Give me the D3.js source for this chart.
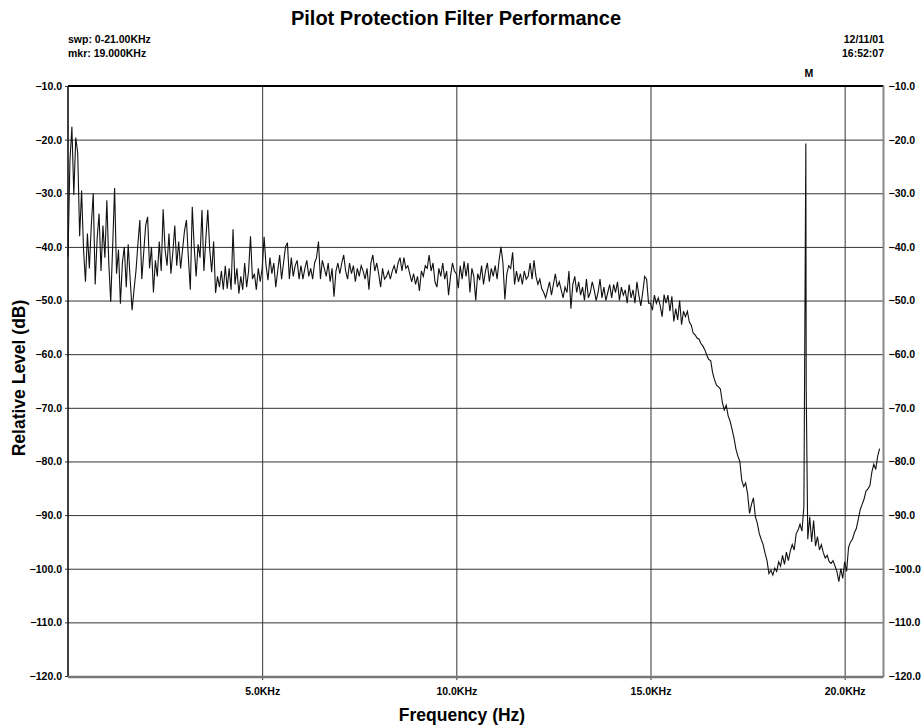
<!DOCTYPE html>
<html>
<head>
<meta charset="utf-8">
<script src="https://cdn.jsdelivr.net/npm/d3@7"></script>
<style>
body { margin: 0; background: #fff; }
</style>
</head>
<body>
<script>
// sweep definition: one level reading every 0.05 kHz from 0 kHz
var sweepStartKHz = 0;
var sweepStepKHz = 0.05;

var levelDb = [
  // 0 - 1 kHz
  -41.8, -24.0, -17.6, -30.3, -19.6, -22.5, -38.0, -29.5, -40.5, -46.5,
  -37.5, -44.0, -36.0, -30.0, -47.0, -38.5, -33.8, -44.5, -36.0, -42.0,
  // 1 - 2 kHz
  -31.3, -43.0, -50.2, -40.0, -29.0, -45.0, -40.5, -50.6, -43.0, -40.0,
  -47.5, -39.5, -46.0, -51.8, -48.0, -44.5, -39.5, -35.0, -46.0, -41.0,
  // 2 - 3 kHz
  -36.0, -34.4, -44.0, -40.0, -48.5, -42.5, -45.5, -39.0, -44.5, -33.0,
  -40.5, -43.5, -37.5, -45.0, -41.0, -36.0, -43.5, -39.0, -44.0, -40.5,
  // 3 - 4 kHz
  -37.0, -35.0, -42.0, -48.0, -32.5, -40.0, -45.5, -39.5, -42.0, -33.1,
  -44.5, -38.5, -33.1, -40.5, -44.7, -39.0, -48.6, -45.5, -47.5, -44.5,
  // 4 - 5 kHz
  -48.0, -43.5, -47.8, -44.0, -48.0, -36.7, -47.0, -44.0, -48.7, -45.5,
  -48.0, -43.0, -47.5, -44.5, -38.0, -46.0, -45.0, -48.0, -44.0, -46.5,
  // 5 - 6 kHz
  -44.0, -38.1, -43.5, -46.2, -42.0, -45.0, -43.0, -47.5, -44.5, -41.5,
  -46.0, -43.0, -40.0, -39.2, -46.0, -42.0, -45.5, -43.5, -42.5, -46.0,
  // 6 - 7 kHz
  -43.5, -46.0, -44.0, -42.5, -45.5, -44.0, -46.0, -43.0, -42.0, -39.0,
  -46.0, -42.5, -44.0, -45.5, -43.0, -46.5, -44.0, -49.3, -44.5, -43.0,
  // 7 - 8 kHz
  -45.0, -43.0, -41.5, -44.5, -46.0, -43.0, -45.0, -43.5, -46.5, -44.0,
  -45.5, -43.5, -44.5, -46.0, -44.0, -48.0, -43.0, -41.5, -44.5, -43.0,
  // 8 - 9 kHz
  -45.0, -47.5, -44.0, -46.0, -45.5, -44.5, -46.0, -44.5, -43.5, -45.0,
  -43.0, -42.0, -44.5, -42.0, -44.0, -43.5, -45.0, -46.5, -45.0, -47.0,
  // 9 - 10 kHz
  -45.5, -48.2, -44.5, -45.5, -43.5, -44.0, -41.5, -44.5, -43.0, -46.5,
  -47.5, -44.0, -45.5, -43.0, -46.0, -44.5, -49.0, -45.5, -43.0, -44.5,
  // 10 - 11 kHz
  -45.0, -47.7, -43.5, -46.0, -42.7, -45.5, -43.0, -48.5, -44.0, -45.5,
  -50.0, -45.0, -46.2, -43.5, -47.0, -44.5, -43.0, -46.5, -44.0, -45.5,
  // 11 - 12 kHz
  -43.5, -46.0, -42.5, -40.0, -43.0, -49.8, -45.0, -43.5, -44.0, -41.0,
  -47.0, -44.5, -46.5, -45.0, -47.0, -44.5, -46.0, -45.5, -43.0, -46.0,
  // 12 - 13 kHz
  -42.5, -45.5, -47.0, -46.0, -47.8, -48.5, -49.5, -48.0, -46.5, -49.0,
  -47.0, -45.0, -47.5, -46.5, -48.0, -49.5, -47.5, -48.5, -44.5, -51.5,
  // 13 - 14 kHz
  -47.0, -45.5, -48.5, -46.5, -49.0, -47.5, -50.0, -46.0, -49.5, -48.5,
  -46.5, -48.0, -50.0, -48.5, -46.0, -49.5, -47.5, -50.0, -48.5, -47.0,
  // 14 - 15 kHz
  -49.5, -47.0, -48.5, -46.5, -50.0, -47.5, -49.0, -48.0, -50.5, -47.0,
  -49.5, -48.0, -50.5, -46.5, -49.0, -51.0, -48.5, -45.5, -46.0, -50.5,
  // 15 - 16 kHz
  -50.5, -51.8, -49.0, -50.5, -49.5, -51.0, -53.0, -48.9, -50.5, -49.0,
  -52.0, -49.2, -53.9, -51.5, -53.6, -50.0, -54.5, -52.0, -53.0, -52.0,
  // 16 - 17 kHz
  -54.0, -54.6, -56.1, -56.4, -57.0, -57.2, -58.0, -58.5, -59.2, -60.2,
  -61.0, -61.2, -63.5, -64.8, -65.8, -66.1, -66.5, -69.0, -70.4, -69.5,
  // 17 - 18 kHz
  -71.5, -72.5, -74.0, -75.6, -77.7, -79.0, -80.0, -83.5, -84.7, -84.0,
  -86.0, -89.7, -88.0, -86.8, -90.3, -91.5, -93.4, -94.5, -95.5, -97.1,
  // 18 - 19 kHz
  -98.5, -100.9, -100.3, -101.2, -99.9, -100.5, -98.7, -99.5, -97.5, -99.2,
  -96.9, -98.5, -96.7, -95.5, -96.5, -93.5, -92.8, -91.7, -93.0, -88.4,
  // 19 - 20 kHz (19.00 = pilot tone)
  -20.7, -94.5, -90.3, -95.0, -91.0, -95.8, -94.0, -96.5, -95.5, -97.0,
  -98.0, -97.5, -98.7, -99.0, -98.5, -99.5, -100.5, -102.4, -100.0, -101.8,
  // 20 - 20.9 kHz
  -98.7, -100.5, -96.0, -95.0, -94.5, -93.3, -92.5, -90.8, -89.0, -88.0,
  -87.0, -85.5, -85.1, -84.5, -82.0, -80.5, -81.5, -79.0, -77.6
];

// extra readings on the flanks of the 19 kHz pilot spike
var spikeKHz = [18.99, 19.01];
var spikeDb = [-34.4, -66.7];

var yTicks = [-10, -20, -30, -40, -50, -60, -70, -80, -90, -100, -110, -120];
var xTicks = [5, 10, 15, 20];
var infoLeft = ["swp: 0-21.00KHz", "mkr: 19.000KHz"];
var infoRight = ["12/11/01", "16:52:07"];
var markerKHz = 19.0;

function init() {
  var W = 921, H = 725;
  var left = 68, top = 86, right = 883.5, bottom = 676;
  var small = '"Liberation Sans", Arial, sans-serif';
  var big = '"Liberation Sans", Arial, sans-serif';

  var svg = d3.select("body").append("svg")
    .attr("width", W)
    .attr("height", H);

  var x = d3.scaleLinear().domain([0, 21]).range([left, right]);
  var y = d3.scaleLinear().domain([-120, -10]).range([bottom, top]);

  // grid
  var gy = svg.append("g")
    .attr("transform", "translate(" + left + ",0)")
    .call(d3.axisLeft(y).tickValues(yTicks).tickSize(-(right - left)).tickFormat(""));
  gy.select(".domain").remove();
  gy.selectAll("line").attr("stroke", "#333");

  var gx = svg.append("g")
    .attr("transform", "translate(0," + (bottom + 4) + ")")
    .call(d3.axisBottom(x).tickValues(xTicks).tickSize(-(bottom - top + 4)).tickFormat(""));
  gx.select(".domain").remove();
  gx.selectAll("line").attr("stroke", "#333");

  // frame
  svg.append("line").attr("x1", left).attr("x2", right).attr("y1", top).attr("y2", top)
    .attr("stroke", "#000").attr("stroke-width", 2);
  svg.append("line").attr("x1", left).attr("x2", left).attr("y1", top).attr("y2", bottom)
    .attr("stroke", "#000").attr("stroke-width", 1.5);
  svg.append("line").attr("x1", right).attr("x2", right).attr("y1", top).attr("y2", bottom + 1)
    .attr("stroke", "#888").attr("stroke-width", 2);
  svg.append("line").attr("x1", left).attr("x2", right).attr("y1", bottom + 1).attr("y2", bottom + 1)
    .attr("stroke", "#777").attr("stroke-width", 2.5);

  // trace
  var pts = levelDb.map(function (v, i) {
    return { f: sweepStartKHz + i * sweepStepKHz, v: v };
  });
  spikeKHz.forEach(function (f, i) { pts.push({ f: f, v: spikeDb[i] }); });
  pts.sort(function (a, b) { return a.f - b.f; });

  var line = d3.line()
    .x(function (d) { return x(d.f); })
    .y(function (d) { return y(d.v); });

  svg.append("path")
    .datum(pts)
    .attr("d", line)
    .attr("fill", "none")
    .attr("stroke", "#111")
    .attr("stroke-width", 1.1);

  // tick labels
  var fmt = d3.format(".1f");
  var al = svg.append("g")
    .attr("transform", "translate(" + left + ",0)")
    .call(d3.axisLeft(y).tickValues(yTicks).tickSize(3).tickPadding(3).tickFormat(fmt));
  var ar = svg.append("g")
    .attr("transform", "translate(" + right + ",0)")
    .call(d3.axisRight(y).tickValues(yTicks).tickSize(0).tickPadding(5).tickFormat(fmt));
  var ab = svg.append("g")
    .attr("transform", "translate(0," + bottom + ")")
    .call(d3.axisBottom(x).tickValues(xTicks).tickSize(0).tickPadding(12)
      .tickFormat(function (d) { return d.toFixed(1) + "KHz"; }));
  [al, ar, ab].forEach(function (g) {
    g.select(".domain").remove();
    g.attr("font-family", small).attr("font-size", 10.5).attr("font-weight", "bold");
    g.selectAll("line").attr("stroke", "#333");
    g.selectAll("text").attr("fill", "#000");
  });

  // texts
  svg.append("text")
    .attr("x", 456).attr("y", 25)
    .attr("text-anchor", "middle")
    .attr("font-family", big).attr("font-size", 20).attr("font-weight", "bold")
    .text("Pilot Protection Filter Performance");

  svg.selectAll(".infoL").data(infoLeft).enter().append("text")
    .attr("x", left).attr("y", function (d, i) { return 43 + i * 13.5; })
    .attr("font-family", small).attr("font-size", 10.5).attr("font-weight", "bold")
    .text(function (d) { return d; });

  svg.selectAll(".infoR").data(infoRight).enter().append("text")
    .attr("x", 884).attr("y", function (d, i) { return 43 + i * 13.5; })
    .attr("text-anchor", "end")
    .attr("font-family", small).attr("font-size", 10.5).attr("font-weight", "bold")
    .text(function (d) { return d; });

  svg.append("text")
    .attr("x", x(markerKHz) + 3).attr("y", 77)
    .attr("text-anchor", "middle")
    .attr("font-family", small).attr("font-size", 10.5).attr("font-weight", "bold")
    .text("M");

  svg.append("text")
    .attr("transform", "translate(25," + ((top + bottom) / 2 - 3) + ") rotate(-90)")
    .attr("text-anchor", "middle")
    .attr("font-family", big).attr("font-size", 17.5).attr("font-weight", "bold")
    .text("Relative Level (dB)");

  svg.append("text")
    .attr("x", 462).attr("y", 721)
    .attr("text-anchor", "middle")
    .attr("font-family", big).attr("font-size", 17.5).attr("font-weight", "bold")
    .text("Frequency (Hz)");
}
window.onload = init;
</script>
</body>
</html>
